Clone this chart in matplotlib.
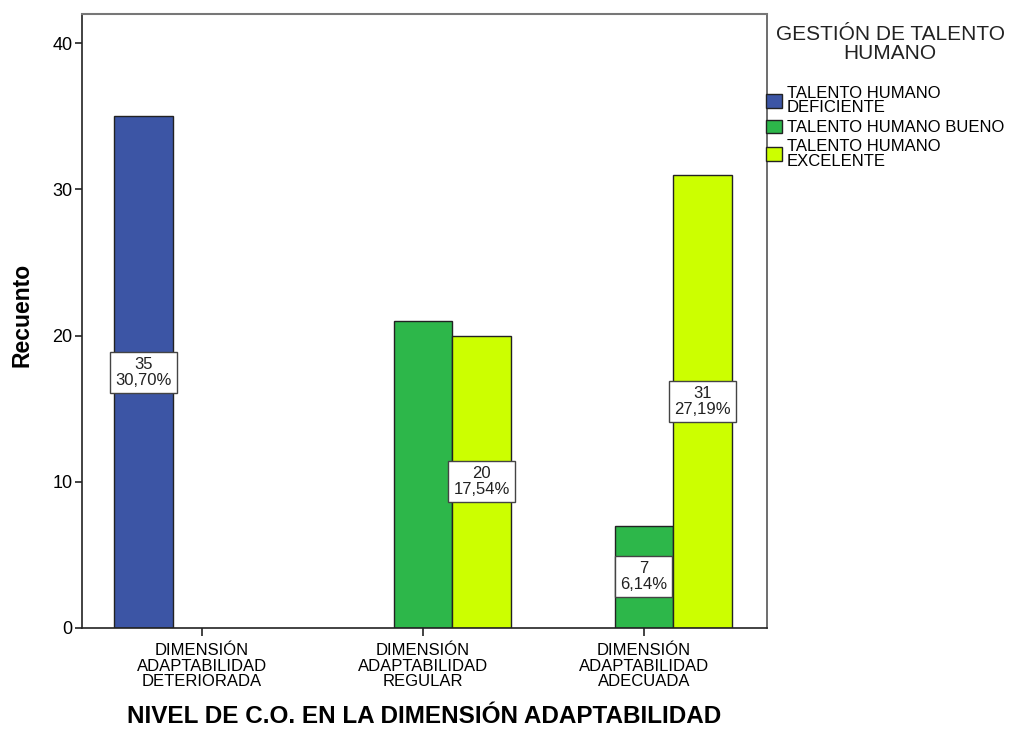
import matplotlib.pyplot as plt
from matplotlib.patches import Patch
import numpy as np

plt.rcParams['font.family'] = ['Liberation Sans', 'DejaVu Sans']

# Counts per level of adaptability (x) and talent management group (series)
categories = ['DIMENSIÓN\nADAPTABILIDAD\nDETERIORADA',
              'DIMENSIÓN\nADAPTABILIDAD\nREGULAR',
              'DIMENSIÓN\nADAPTABILIDAD\nADECUADA']
series_names = ['TALENTO HUMANO\nDEFICIENTE',
                'TALENTO HUMANO BUENO',
                'TALENTO HUMANO\nEXCELENTE']
legend_title = 'GESTIÓN DE TALENTO\nHUMANO'
deficiente = [35, 0, 0]
bueno = [0, 21, 7]
excelente = [0, 20, 31]
colors = ['#3c55a5', '#2db74a', '#ccff00']

# bars that carry a count/percent label: (series index, category index)
labelled = [(0, 0), (2, 1), (1, 2), (2, 2)]

values = [deficiente, bueno, excelente]
total = sum(sum(v) for v in values)

W, H = 1010, 729
fig = plt.figure(figsize=(W / 100, H / 100), dpi=100)
ax = fig.add_axes([82 / W, 101 / H, 685 / W, 614 / H])

x = np.arange(len(categories))
width = 0.265
offsets = [-width, 0, width]

for i, (vals, col) in enumerate(zip(values, colors)):
    for j, v in enumerate(vals):
        if v == 0:
            continue
        ax.bar(x[j] + offsets[i], v, width=width, color=col,
               edgecolor='#222222', linewidth=1.0, zorder=2)

for i, j in labelled:
    v = values[i][j]
    pct = f'{v / total * 100:.2f}'.replace('.', ',')
    ax.text(x[j] + offsets[i], v / 2, f'{v}\n{pct}%', ha='center', va='center',
            fontsize=12, linespacing=1.1, color='#222222', zorder=3,
            bbox=dict(boxstyle='square,pad=0.3', facecolor='white',
                      edgecolor='#444444', linewidth=1.0))

ax.set_xlim(-0.543, 2.557)
ax.set_ylim(0, 42)
ax.set_yticks([0, 10, 20, 30, 40])
ax.set_xticks(x)
ax.set_xticklabels(categories, fontsize=12, linespacing=1.05)
ax.tick_params(axis='y', labelsize=13, length=5, width=1.2, color='#222222',
               pad=2)
ax.tick_params(axis='x', length=6, width=1.2, color='#222222', pad=5)

for side in ['left', 'bottom']:
    ax.spines[side].set_color('#222222')
    ax.spines[side].set_linewidth(1.2)
ax.spines['top'].set_color('#777777')
ax.spines['top'].set_linewidth(1.5)
ax.spines['right'].set_color('#555555')
ax.spines['right'].set_linewidth(1.2)

ax.set_ylabel('Recuento', fontsize=16.5, fontweight='bold')
ax.yaxis.set_label_coords(-0.0705, 0.51)

# axis title kept just inside the bottom edge
fig.text(0.5 * (82 + 767) / W, 1 / H, 'NIVEL DE C.O. EN LA DIMENSIÓN ADAPTABILIDAD',
         ha='center', va='bottom', fontsize=17.5, fontweight='bold')

# legend title drawn on its own so the gap to the entries can be set freely
fig.text(890 / W, 1 - 44 / H, legend_title, ha='center', va='center',
         fontsize=15, linespacing=1.0, color='#222222')

handles = [Patch(facecolor=c, edgecolor='#222222', linewidth=1.0) for c in colors]
leg = fig.legend(handles, series_names, loc='upper left',
                 bbox_to_anchor=(766 / W, 1 - 86 / H), frameon=False,
                 borderaxespad=0, borderpad=0, fontsize=12,
                 handlelength=0.96, handleheight=0.84, handletextpad=0.3,
                 labelspacing=0.25)
for t in leg.get_texts():
    t.set_linespacing(0.95)

fig.savefig('out.png', dpi=100, facecolor='white')
